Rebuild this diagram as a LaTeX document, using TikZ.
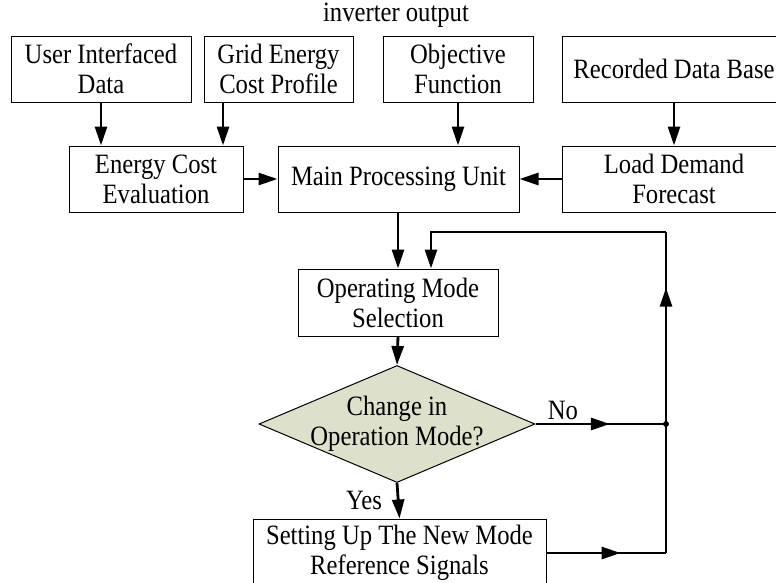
\documentclass[tikz,border=0pt]{standalone}
\usepackage{fontspec}
\setmainfont{Liberation Serif}[FakeStretch=0.88]
\usetikzlibrary{arrows.meta,shapes.geometric,calc,decorations.markings}
\definecolor{diafill}{RGB}{221,225,204}
\tikzset{
  blk/.style={draw, line width=1pt, align=center, inner sep=0pt, minimum height=66pt},
  arr/.style={line width=2.8pt, -{Triangle[length=19pt,width=12pt]}},
  ln/.style={line width=2.8pt},
  midarr/.style={line width=2.8pt, postaction={decorate},
    decoration={markings, mark=at position #1 with {\arrow{Triangle[length=19pt,width=12pt]}}}},
  lbl/.style={inner sep=0pt}
}
\begin{document}
\begin{tikzpicture}[x=1pt,y=-1pt,font=\fontsize{28pt}{30pt}\selectfont]
\useasboundingbox (0,0) rectangle (776,582);
\clip (0,0) rectangle (776,582);
\node[lbl, anchor=base] (title) at (396,21) {inverter output};
\node[blk, minimum width=180pt] (uid) at (101,69) {User Interfaced\\Data};
\node[blk, minimum width=149pt] (gec) at (278.5,69) {Grid Energy\\Cost Profile};
\node[blk, minimum width=150pt] (obj) at (458,69) {Objective\\Function};
\node[blk, minimum width=224pt] (rdb) at (674,69) {Recorded Data Base};
\node[blk, minimum width=174pt] (ece) at (156,179) {Energy Cost\\Evaluation};
\node[blk, minimum width=241pt] (mpu) at (398.5,179) {Main Processing Unit};
\node[blk, minimum width=224pt] (ldf) at (674,179) {Load Demand\\Forecast};
\node[blk, minimum width=200pt, minimum height=67pt] (oms) at (398,302.5) {Operating Mode\\Selection};
\node[diamond, draw, line width=1pt, fill=diafill, inner sep=0pt, minimum width=276pt, minimum height=117pt] (dia) at (397,424) {};
\node[lbl, align=center] (diatext) at (dia.center) {Change in\\Operation Mode?};
\node[blk, minimum width=293pt, minimum height=68pt] (sup) at (399.5,553) {Setting Up The New Mode\\Reference Signals};
\coordinate (j) at (666,424);
\coordinate (c1) at (666,553);
\coordinate (c2) at (666,232);
\coordinate (c3) at (431,232);
\coordinate (g1) at (223,102);
\draw[arr] (uid.south) -- (uid.south |- ece.north);
\draw[arr] (g1) -- (g1 |- ece.north);
\draw[arr] (obj.south) -- (obj.south |- mpu.north);
\draw[arr] (rdb.south) -- (ldf.north);
\draw[arr] (ece.east) -- (mpu.west);
\draw[arr] (ldf.west) -- (mpu.east);
\draw[arr] (mpu.south -| oms.north) -- (oms.north);
\draw[arr] (oms.south) -- (dia.north);
\draw[arr] (dia.south) -- (sup.north);
\node[lbl] (yes) at (364,500) {Yes};
\draw[midarr=0.57] (dia.east) -- (j);
\node[lbl] (no) at (563,410) {No};
\draw[midarr=0.62] (sup.east) -- (c1);
\draw[ln] (c1) -- (j);
\draw[midarr=0.71] (j) -- (c2);
\draw[arr] (c2) -- (c3) -- (c3 |- oms.north);
\fill (j) circle (3pt);
\end{tikzpicture}
\end{document}
